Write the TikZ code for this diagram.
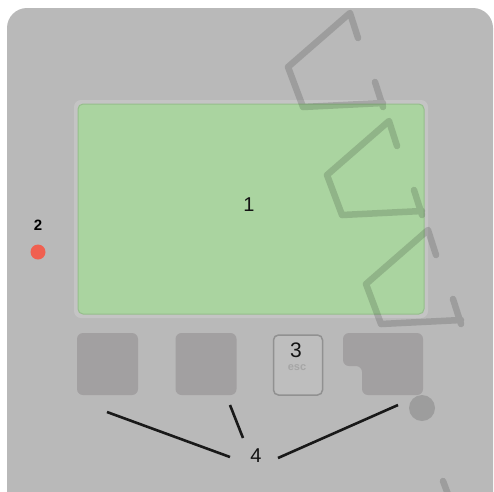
\documentclass[tikz,border=0pt]{standalone}
\usepackage{fontspec}
\setmainfont{Liberation Sans}
\definecolor{panelgray}{RGB}{185,185,185}
\definecolor{halogray}{RGB}{196,196,196}
\definecolor{dispgreen}{RGB}{170,212,160}
\definecolor{dispedge}{RGB}{150,190,140}
\definecolor{btngray}{RGB}{162,160,161}
\definecolor{escfill}{RGB}{190,190,190}
\definecolor{escedge}{RGB}{145,145,145}
\definecolor{ledred}{RGB}{240,96,80}
\begin{document}
\begin{tikzpicture}[x=1pt,y=-1pt,
  display/.style={draw=dispedge, line width=1pt, fill=dispgreen, rounded corners=5pt,
    minimum width=346pt, minimum height=210pt, inner sep=0pt},
  btn/.style={fill=btngray, rounded corners=6pt, minimum width=61pt, minimum height=62pt, inner sep=0pt},
  escbtn/.style={fill=escfill, draw=escedge, line width=1.5pt, rounded corners=5pt,
    minimum width=49pt, minimum height=60pt, inner sep=0pt},
  lbl/.style={font=\fontsize{20}{24}\selectfont, text=black!92, inner sep=0pt},
  smalllbl/.style={font=\fontsize{15}{18}\selectfont\bfseries, text=black, inner sep=0pt},
  led/.style={circle, fill=ledred, minimum size=15pt, inner sep=0pt},
  leader/.style={draw=black!90, line width=2.6pt},
  wm/.style={draw=black, draw opacity=0.15, line width=6.5pt, line cap=round, line join=round},
  wmdot/.style={fill=black, fill opacity=0.15}
]
\useasboundingbox (0,0) rectangle (494,491);
\fill[white] (0,0) rectangle (494,491);
\begin{scope}
\clip (0,0) rectangle (494,491);
% housing
\fill[panelgray, rounded corners=20pt] (7,8) rectangle (493,530);
% display
\fill[halogray, rounded corners=7pt] (74,100) rectangle (428,318);
\node[display] (disp) at (251,209) {};
\node[lbl] (n1) at (249,205) {1};
% LED
\node[smalllbl] (n2) at (38,225) {2};
\node[led] (ledA) at (38,252) {};
% buttons
\node[btn] (b1) at (107.5,364) {};
\node[btn] (b2) at (206,364) {};
\node[escbtn] (b3) at (298,365) {};
\node[lbl, font=\fontsize{21}{24}\selectfont] (n3) at (296,350) {3};
\node[font=\fontsize{11}{12}\selectfont\bfseries, text=black!35, inner sep=0pt] (esc) at (297,368) {esc};
\fill[btngray, rounded corners=6pt] (343,333) -- (423,333) -- (423,395) -- (362,395) -- (362,366) -- (343,366) -- cycle;
\coordinate (b4) at (390,380);
% leaders
\node[lbl] (n4) at (256,456) {4};
\coordinate (l1a) at (107,412);
\coordinate (l1b) at (230,457);
\coordinate (l2a) at (230,405);
\coordinate (l2b) at (243,438);
\coordinate (l3a) at (278,458);
\coordinate (l3b) at (398,405);
\draw[leader] (l1a) -- (l1b);
\draw[leader] (l2a) -- (l2b);
\draw[leader] (l3a) -- (l3b);
% watermark
\foreach \dx/\dy in {0/0, 39/108, 78/217} {
  \draw[wm, shift={(\dx,\dy)}] (358,38) -- (350,13) -- (288,67) -- (303,107) -- (383,103)
     (375,82) -- (383,107);
}
\fill[wmdot] (422,408) circle (13);
\draw[wm] (443,481) -- (449,497);
\end{scope}
\end{tikzpicture}
\end{document}
